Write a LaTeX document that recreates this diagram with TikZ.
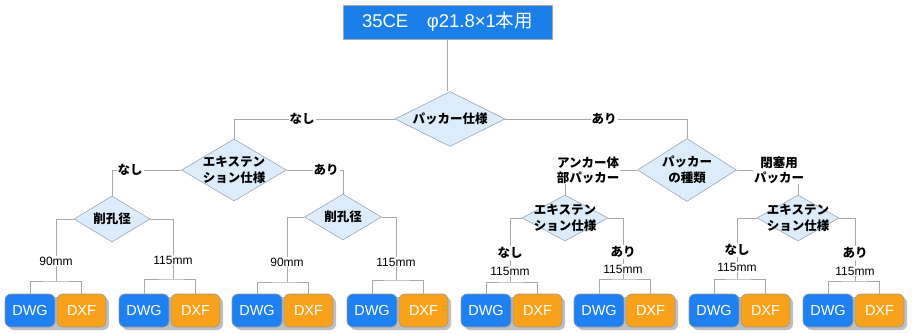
\documentclass[tikz,border=0pt]{standalone}
\usepackage{fontspec}
\setmainfont{Liberation Sans}
\newfontfamily\jp{Noto Sans CJK JP}
\usetikzlibrary{shapes.geometric}
\definecolor{titleblue}{HTML}{1A7FE8}
\definecolor{dwgblue}{HTML}{1F80F2}
\definecolor{dxforange}{HTML}{F8A21C}
\definecolor{diafill}{HTML}{DCECFB}
\definecolor{diaborder}{HTML}{9AA8B8}
\definecolor{linegray}{HTML}{A8A8A8}
\tikzset{
  conn/.style={draw=linegray, line width=0.8pt},
  dia/.style={diamond, draw=diaborder, fill=diafill, inner sep=0pt, line width=0.6pt},
  diatext/.style={font={\jp\bfseries\fontsize{12.5}{16}\selectfont}, align=center, inner sep=0pt},
  lab/.style={fill=white, inner sep=1pt, font={\jp\bfseries\fontsize{12.5}{15}\selectfont}, align=center},
  mmlab/.style={fill=white, inner sep=1pt, font={\fontsize{12}{14}\selectfont}},
  filebox/.style={rounded corners=6pt, minimum height=33pt, inner sep=0pt, text=white, font={\fontsize{14.5}{16}\selectfont}, draw=black!40, line width=0.6pt},
  dwgbox/.style={filebox, fill=dwgblue, minimum width=50pt},
  dxfbox/.style={filebox, fill=dxforange, minimum width=49pt},
  titlebox/.style={fill=titleblue, draw=black!35, line width=0.6pt, minimum width=209pt, minimum height=34pt, inner sep=0pt, text=white, font={\fontsize{18.5}{20}\selectfont}}
}
\begin{document}
\begin{tikzpicture}[x=1pt,y=-1pt]
\useasboundingbox (0,0) rectangle (912,334);
\fill[white] (0,0) rectangle (912,334);

% title
\node[titlebox] (t) at (447.5,22) {35CE\quad φ21.8×1{\jp 本用}};

% diamonds
\node[dia, minimum width=110pt, minimum height=55pt] (d0) at (450,119) {};
\node[diatext] (d0t) at (450,119) {パッカー仕様};
\node[dia, minimum width=105pt, minimum height=62pt] (d1) at (234,170) {};
\node[diatext] (d1t) at (234,170) {エキステン\\ション仕様};
\node[dia, minimum width=99pt, minimum height=63pt] (d2) at (687,170) {};
\node[diatext] (d2t) at (687,170) {パッカー\\の種類};
\node[dia, minimum width=76pt, minimum height=46pt] (k1) at (112,219) {};
\node[diatext] (k1t) at (112,219) {削孔径};
\node[dia, minimum width=77pt, minimum height=46pt] (k2) at (343,217) {};
\node[diatext] (k2t) at (343,217) {削孔径};
\node[dia, minimum width=86pt, minimum height=46pt] (e1) at (565,218) {};
\node[diatext] (e1t) at (565,218) {エキステン\\ション仕様};
\node[dia, minimum width=82pt, minimum height=46pt] (e2) at (798,218) {};
\node[diatext] (e2t) at (798,218) {エキステン\\ション仕様};

% file boxes
\foreach \i/\xl/\jx/\jy in {0/5/56/281, 1/119/173/279, 2/232/287/282, 3/347/396/280, 4/461/510/282, 5/574/623/279, 6/689/737/279, 7/803/855/281} {
  \fill[black!25, rounded corners=6pt] (\xl+3,297) rectangle (\xl+104,330);
  \node[dwgbox] (dwg\i) at (\xl+25,310.5) {DWG};
  \node[dxfbox] (dxf\i) at (\xl+76.5,310.5) {DXF};
  \coordinate (j\i) at (\jx,\jy);
  \draw[conn] (dwg\i.north) |- (j\i) -| (dxf\i.north);
}

% connectors
\draw[conn] (t.south) -- (t.south |- d0.north);
\draw[conn] (d0.west) -| (d1.north);
\draw[conn] (d0.east) -| (d2.north);
\draw[conn] (d1.west) -| (k1.north);
\draw[conn] (d1.east) -| (k2.north);
\draw[conn] (d2.west) -| (e1.north);
\draw[conn] (d2.east) -| (e2.north);
\draw[conn] (k1.west) -| (j0);
\draw[conn] (k1.east) -| (j1);
\draw[conn] (k2.west) -| (j2);
\draw[conn] (k2.east) -| (j3);
\draw[conn] (e1.west) -| (j4);
\draw[conn] (e1.east) -| (j5);
\draw[conn] (e2.west) -| (j6);
\draw[conn] (e2.east) -| (j7);

% labels
\node[lab] (l1) at (302,119) {なし};
\node[lab] (l2) at (604,119) {あり};
\node[lab] (l3) at (130,170) {なし};
\node[lab] (l4) at (326,170) {あり};
\node[lab] (l5) at (588,170) {アンカー体\\部パッカー};
\node[lab] (l6) at (779,170) {閉塞用\\パッカー};
\node[mmlab] (m0) at (56,261) {90mm};
\node[mmlab] (m1) at (173,260) {115mm};
\node[mmlab] (m2) at (287,262) {90mm};
\node[mmlab] (m3) at (396,262) {115mm};
\node[lab] (n4) at (510,253) {なし};
\node[mmlab] (m4) at (510,271) {115mm};
\node[lab] (n5) at (623,252) {あり};
\node[mmlab] (m5) at (623,269) {115mm};
\node[lab] (n6) at (737,250) {なし};
\node[mmlab] (m6) at (737,267) {115mm};
\node[lab] (n7) at (855,253) {あり};
\node[mmlab] (m7) at (855,271) {115mm};
\end{tikzpicture}
\end{document}
